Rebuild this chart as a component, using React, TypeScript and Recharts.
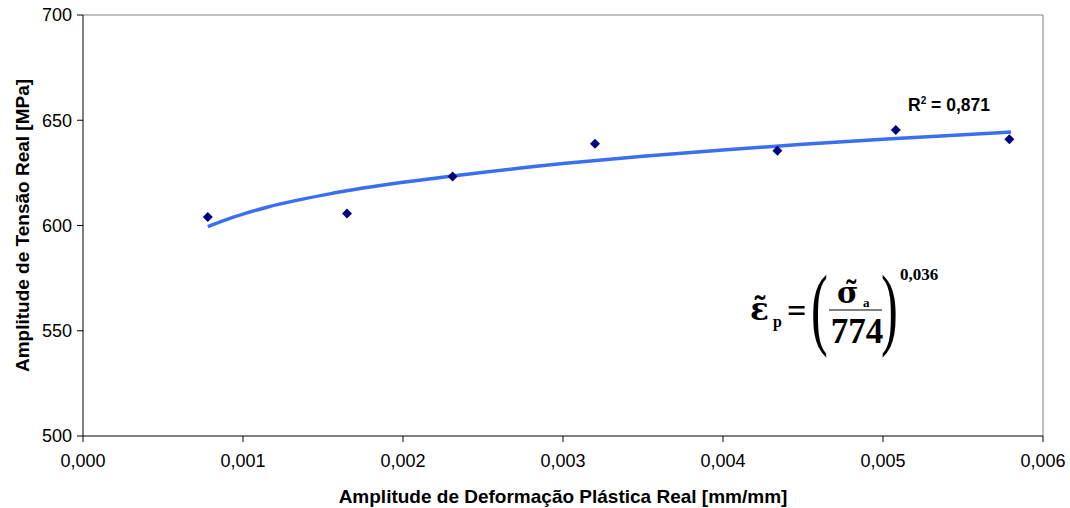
import React from 'react';
import { ComposedChart, Scatter, Line, XAxis, YAxis, ReferenceLine } from 'recharts';

// measured points: plastic strain amplitude vs stress amplitude
const strainAmp = [0.00078, 0.00165, 0.00231, 0.0032, 0.00434, 0.00508, 0.00579];
const stressAmp = [604, 605.7, 623.3, 638.8, 635.5, 645.4, 641];

// power trend line
const trendX = [0.00078, 0.00094, 0.00115, 0.00156, 0.002, 0.00231, 0.003, 0.0035, 0.004, 0.0045, 0.005, 0.0058];
const trendY = [599.5, 604, 608.7, 615.3, 620.5, 623.5, 629.4, 632.9, 635.9, 638.6, 641, 644.4];

const xTicks = [0, 0.001, 0.002, 0.003, 0.004, 0.005, 0.006];
const yTicks = [500, 550, 600, 650, 700];

const points = strainAmp.map((x, i) => ({ x, y: stressAmp[i] }));
const trend = trendX.map((x, i) => ({ x, t: trendY[i] }));

const W = 1070;
const H = 508;
const FONT = '"Liberation Sans", Arial, sans-serif';
const SERIF = '"Liberation Serif", "Times New Roman", serif';
const GREEK = '"DejaVu Serif", serif';

const Diamond = (props: any) => {
  const { cx, cy } = props;
  if (cx == null || cy == null) return null;
  const r = 5;
  return <polygon points={`${cx},${cy - r} ${cx + r},${cy} ${cx},${cy + r} ${cx - r},${cy}`} fill="#000080" />;
};

const fmtX = (v: number) => v.toFixed(3).replace('.', ',');

export default function App() {
  const tickStyle = { fill: '#000', fontSize: 18, fontFamily: FONT };
  const titleStyle = { fill: '#000', fontSize: 19, fontWeight: 'bold', fontFamily: FONT };
  return (
    <div style={{ position: 'absolute', left: 0, top: 0, width: W, height: H, background: '#fff' }}>
      <ComposedChart width={W} height={H} margin={{ top: 15, right: 27, left: 0, bottom: 0 }}>
        <XAxis
          type="number"
          dataKey="x"
          domain={[0, 0.006]}
          ticks={xTicks}
          tickFormatter={fmtX}
          height={72}
          stroke="#000"
          tickSize={6}
          tick={tickStyle}
          tickMargin={12}
          label={{ value: 'Amplitude de Deformação Plástica Real [mm/mm]', position: 'insideBottom', offset: 5, style: titleStyle }}
        />
        <YAxis
          type="number"
          dataKey="y"
          domain={[500, 700]}
          ticks={yTicks}
          width={83}
          stroke="#000"
          tickSize={6}
          tick={tickStyle}
          tickMargin={5}
          label={{ value: 'Amplitude de Tensão Real [MPa]', angle: -90, position: 'insideLeft', offset: 22, style: { ...titleStyle, textAnchor: 'middle' } }}
        />
        <ReferenceLine y={700} stroke="#808080" strokeWidth={1} />
        <ReferenceLine x={0.006} stroke="#808080" strokeWidth={1} />
        <Line
          data={trend}
          dataKey="t"
          type="monotone"
          stroke="#3a6ff0"
          strokeWidth={3.5}
          dot={false}
          activeDot={false}
          isAnimationActive={false}
        />
        <Scatter data={points} dataKey="y" shape={<Diamond />} isAnimationActive={false} />
      </ComposedChart>
      <div style={{ position: 'absolute', left: 908, top: 95, fontFamily: FONT, fontWeight: 'bold', fontSize: 17.5, color: '#000', whiteSpace: 'nowrap' }}>
        R<sup style={{ fontSize: 10 }}>2</sup> = 0,871
      </div>
      <svg style={{ position: 'absolute', left: 0, top: 0 }} width={W} height={H}>
        <g fontFamily={SERIF} fontWeight="bold" fill="#000">
          <text x={750} y={320} fontSize={31} fontFamily={GREEK}>ε̃</text>
          <text x={773} y={327} fontSize={16}>p</text>
          <text x={787} y={322} fontSize={34}>=</text>
          <text x={0} y={0} fontSize={92} fontWeight="normal" transform="translate(811 338) scale(0.55 1)">(</text>
          <text x={0} y={0} fontSize={92} fontWeight="normal" transform="translate(881 338) scale(0.55 1)">)</text>
          <text x={837} y={303} fontSize={29} fontFamily={GREEK}>σ̃</text>
          <text x={863} y={307} fontSize={13}>a</text>
          <line x1={829} x2={882} y1={310} y2={310} stroke="#000" strokeWidth={1.2} />
          <text x={857} y={343} fontSize={35} textAnchor="middle">774</text>
          <text x={900} y={280} fontSize={17}>0,036</text>
        </g>
      </svg>
    </div>
  );
}
